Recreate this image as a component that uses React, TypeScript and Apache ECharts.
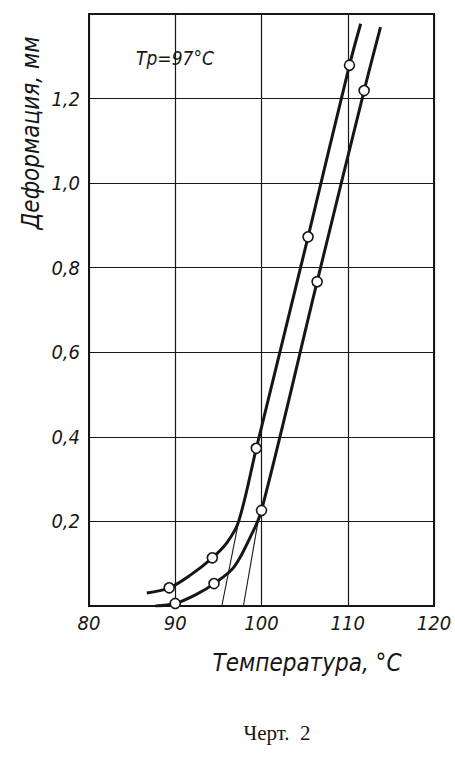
import React, { useEffect, useRef } from "react";
import * as echarts from "echarts";

// Temperature axis ticks (°C) and deformation axis ticks (mm)
const xTicks = [80, 90, 100, 110, 120];
const yTicks = [0, 0.2, 0.4, 0.6, 0.8, 1.0, 1.2, 1.4];

// Upper/left curve: drawn line and measured points
const curveA = [
  [86.7, 0.031], [89.3, 0.043], [91.75, 0.073], [94.3, 0.114], [96.0, 0.15],
  [97.35, 0.2], [99.4, 0.373], [105.4, 0.873], [110.2, 1.279], [111.5, 1.377],
];
const pointsA = [[89.3, 0.043], [94.3, 0.114], [99.4, 0.373], [105.4, 0.873], [110.2, 1.279]];

// Lower/right curve: drawn line and measured points
const curveB = [
  [87.7, 0.0], [90.0, 0.006], [92.5, 0.028], [94.5, 0.053], [96.8, 0.092],
  [98.7, 0.163], [100.0, 0.226], [106.45, 0.767], [111.9, 1.219], [113.8, 1.369],
];
const pointsB = [[90.0, 0.006], [94.5, 0.053], [100.0, 0.226], [106.45, 0.767], [111.9, 1.219]];

// Thin tangent extensions down to the temperature axis
const tangentA = [[95.4, 0], [97.35, 0.2]];
const tangentB = [[97.9, 0], [99.6, 0.2]];

const FONT = '"Liberation Sans Narrow", "DejaVu Sans Condensed", "Liberation Sans", sans-serif';
const INK = "#161616";

export default function App() {
  const ref = useRef<HTMLDivElement>(null);
  useEffect(() => {
    if (!ref.current) return;
    const chart = echarts.init(ref.current, undefined, { renderer: "svg" });
    const lineStyleThick = { color: INK, width: 3 };
    const marker = { color: "#ffffff", borderColor: INK, borderWidth: 1.6, opacity: 1 };
    chart.setOption({
      animation: false,
      backgroundColor: "#ffffff",
      grid: {
        left: 89, right: 21, top: 14, bottom: 153,
        show: true, borderColor: INK, borderWidth: 2, backgroundColor: "transparent",
      },
      xAxis: {
        type: "value",
        min: xTicks[0], max: xTicks[xTicks.length - 1], interval: 10,
        axisLine: { show: false },
        axisTick: { show: false },
        splitLine: { show: true, lineStyle: { color: INK, width: 1.2 } },
        axisLabel: {
          color: INK, fontFamily: FONT, fontStyle: "italic", fontSize: 20, margin: 7,
          formatter: (v: number) => String(v),
        },
      },
      yAxis: {
        type: "value",
        min: yTicks[0], max: yTicks[yTicks.length - 1], interval: 0.2,
        axisLine: { show: false },
        axisTick: { show: false },
        splitLine: { show: true, lineStyle: { color: INK, width: 1.2 } },
        axisLabel: {
          color: INK, fontFamily: FONT, fontStyle: "italic", fontSize: 20, margin: 9,
          formatter: (v: number) => {
            if (Math.abs(v) < 1e-6 || Math.abs(v - 1.4) < 1e-6) return "";
            return v.toFixed(1).replace(".", ",");
          },
        },
      },
      series: [
        {
          type: "line", data: curveA, smooth: 0.35,
          showSymbol: false, symbol: "none", lineStyle: lineStyleThick, z: 3,
        },
        {
          type: "line", data: curveB, smooth: 0.35,
          showSymbol: false, symbol: "none", lineStyle: lineStyleThick, z: 3,
        },
        {
          type: "line", data: tangentA, symbol: "none", lineStyle: { color: INK, width: 1.1 }, z: 2,
        },
        {
          type: "line", data: tangentB, symbol: "none", lineStyle: { color: INK, width: 1.1 }, z: 2,
        },
        {
          type: "scatter", data: pointsA, symbol: "circle", symbolSize: 10,
          itemStyle: marker, z: 5,
        },
        {
          type: "scatter", data: pointsB, symbol: "circle", symbolSize: 10,
          itemStyle: marker, z: 5,
        },
      ],
      graphic: [
        {
          type: "text", x: 175, y: 58,
          style: {
            text: "Tp=97°C", fill: INK, font: `italic 19px ${FONT}`,
            align: "center", verticalAlign: "middle",
          },
        },
        {
          type: "text", x: 31, y: 133, rotation: Math.PI / 2,
          style: {
            text: "Деформация, мм", fill: INK, font: `italic 24px ${FONT}`,
            align: "center", verticalAlign: "middle",
          },
        },
        {
          type: "text", x: 307, y: 663,
          style: {
            text: "Температура, °C", fill: INK, font: `italic 24px ${FONT}`,
            align: "center", verticalAlign: "middle",
          },
        },
        {
          type: "text", x: 277, y: 733,
          style: {
            text: "Черт.  2", fill: INK, font: `21px "Liberation Serif", "DejaVu Serif", serif`,
            align: "center", verticalAlign: "middle",
          },
        },
      ],
    });
    return () => chart.dispose();
  }, []);
  return (
    <div
      ref={ref}
      style={{ position: "absolute", left: 0, top: 0, width: 455, height: 759, background: "#fff" }}
    />
  );
}
